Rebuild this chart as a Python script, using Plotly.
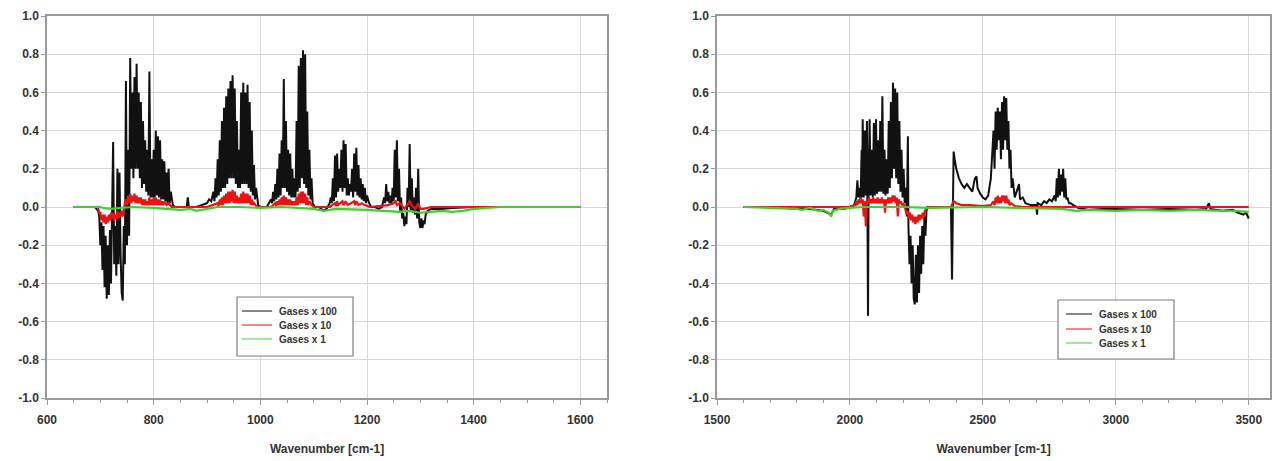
import plotly.graph_objects as go

# ---------------- data ----------------
# Left panel, Gases x 100 (black)
L100_wn = [650, 690, 696, 698, 700, 702, 704, 706, 708, 710, 712, 714, 716, 718, 720, 722, 724, 726, 728, 730,
           732, 734, 736, 738, 740, 742, 744, 746, 748, 750, 752, 754, 756, 758, 760, 762, 764, 766, 768, 770,
           772, 774, 776, 778, 780, 782, 784, 786, 788, 790, 792, 794, 796, 798, 800, 802, 804, 806, 808, 810,
           812, 814, 816, 818, 820, 822, 824, 826, 828, 830, 832, 836, 840, 850, 862, 864, 866, 880, 890,
           900, 904, 908, 912, 914, 916, 918, 920, 922, 924, 926, 928, 930, 932, 934, 936, 938, 940, 942, 944,
           946, 948, 950, 952, 954, 956, 958, 960, 962, 964, 966, 968, 970, 972, 974, 976, 978, 980, 982, 984,
           986, 988, 990, 992, 996, 1000, 1012, 1016, 1020, 1022, 1024, 1026, 1028, 1030, 1032, 1034, 1036, 1038,
           1040, 1042, 1044, 1046, 1048, 1050, 1052, 1054, 1056, 1058, 1060, 1062, 1064, 1066, 1068, 1070, 1072,
           1074, 1076, 1078, 1080, 1082, 1084, 1086, 1088, 1090, 1092, 1094, 1096, 1098, 1102, 1110, 1118, 1124,
           1130, 1132, 1134, 1136, 1138, 1140, 1142, 1144, 1146, 1148, 1150, 1152, 1154, 1156, 1158, 1160, 1162,
           1164, 1166, 1168, 1170, 1172, 1174, 1176, 1178, 1180, 1182, 1184, 1186, 1188, 1190, 1192, 1194, 1196,
           1198, 1200, 1204, 1208, 1215, 1222, 1228, 1232, 1234, 1236, 1238, 1240, 1242, 1244, 1246, 1248, 1250,
           1252, 1254, 1256, 1258, 1260, 1262, 1264, 1266, 1268, 1270, 1272, 1274, 1276, 1278, 1280, 1282, 1284,
           1286, 1288, 1290, 1292, 1294, 1296, 1298, 1300, 1302, 1304, 1306, 1308, 1310, 1314, 1320, 1340, 1360,
           1400, 1600]
L100_val = [0, 0, -0.02, -0.05, -0.2, -0.08, -0.33, -0.1, -0.42, -0.15, -0.48, -0.2, -0.46, -0.12, -0.4, 0.1, 0.34, -0.3, -0.1, -0.36,
            0.2, -0.3, 0.18, -0.25, -0.45, -0.49, -0.1, -0.3, 0.66, -0.2, 0.3, -0.15, 0.78, 0.2, 0.6, 0.15, 0.68, 0.2, 0.75, 0.2,
            0.6, 0.15, 0.55, 0.1, 0.45, 0.12, 0.35, 0.08, 0.3, 0.06, 0.71, 0.05, 0.25, 0.05, 0.3, 0.05, 0.4, 0.06, 0.37, 0.05,
            0.35, 0.04, 0.25, 0.04, 0.24, 0.03, 0.18, 0.02, 0.2, 0.02, 0.08, 0.01, 0.0, 0.0, 0.0, 0.05, 0.0, 0.0, 0.01,
            0.02, 0.04, 0.03, 0.08, 0.03, 0.15, 0.05, 0.25, 0.06, 0.35, 0.08, 0.45, 0.1, 0.52, 0.1, 0.58, 0.12, 0.62, 0.15, 0.66,
            0.15, 0.69, 0.15, 0.62, 0.12, 0.45, 0.1, 0.3, 0.1, 0.6, 0.12, 0.65, 0.12, 0.6, 0.12, 0.64, 0.1, 0.55, 0.08, 0.4,
            0.06, 0.22, 0.04, 0.1, 0.01, 0.0, 0.0, 0.02, 0.04, 0.02, 0.08, 0.03, 0.12, 0.04, 0.2, 0.05, 0.28, 0.06,
            0.35, 0.1, 0.67, 0.1, 0.45, 0.08, 0.3, 0.06, 0.28, 0.05, 0.2, 0.05, 0.15, 0.05, 0.45, 0.08, 0.74,
            0.1, 0.78, 0.15, 0.82, 0.12, 0.8, 0.1, 0.5, 0.06, 0.3, 0.04, 0.15, 0.02, 0.0, 0.0, -0.02, -0.01,
            0.02, 0.05, 0.02, 0.15, 0.03, 0.27, 0.05, 0.28, 0.08, 0.2, 0.1, 0.3, 0.08, 0.35, 0.1, 0.33, 0.06,
            0.15, 0.06, 0.12, 0.08, 0.2, 0.05, 0.28, 0.08, 0.31, 0.06, 0.22, 0.05, 0.15, 0.04, 0.12, 0.03, 0.1,
            0.02, 0.06, 0.02, 0.0, 0.0, -0.01, 0.0, 0.05, 0.02, 0.12, 0.03, 0.08, 0.02, 0.06, 0.02, 0.1, 0.03,
            0.3, 0.05, 0.35, 0.03, 0.2, -0.02, 0.05, -0.06, -0.03, -0.1, -0.05, -0.09, 0.1, 0.0, 0.33, -0.02, 0.15,
            -0.03, 0.05, -0.04, 0.1, -0.06, 0.2, -0.08, -0.11, -0.06, -0.11, -0.07, -0.09, -0.04, -0.02, -0.01, -0.01, -0.005,
            0.0, 0.0]

# Left panel, Gases x 10 (red)
L10_wn = [650, 695, 698, 700, 702, 704, 706, 708, 710, 712, 714, 716, 718, 720, 722, 724, 726, 728, 730, 732,
          734, 736, 738, 740, 742, 744, 746, 748, 750, 752, 754, 756, 758, 760, 762, 764, 766, 768, 770, 772,
          774, 776, 778, 780, 782, 784, 786, 788, 790, 792, 794, 796, 798, 800, 802, 804, 806, 808, 810, 812,
          814, 816, 818, 820, 824, 828, 834, 850, 900, 910, 920, 922, 924, 926, 928, 930, 932, 934, 936, 938,
          940, 942, 944, 946, 948, 950, 952, 954, 956, 958, 960, 962, 964, 966, 968, 970, 972, 974, 976, 978,
          980, 982, 984, 986, 988, 994, 1020, 1024, 1028, 1030, 1032, 1034, 1036, 1038, 1040, 1042, 1044, 1046,
          1048, 1050, 1052, 1054, 1056, 1058, 1060, 1062, 1064, 1066, 1068, 1070, 1072, 1074, 1076, 1078, 1080,
          1082, 1084, 1086, 1088, 1090, 1092, 1096, 1100, 1130, 1140, 1142, 1144, 1146, 1150, 1154, 1156, 1160,
          1164, 1170, 1176, 1178, 1180, 1184, 1190, 1196, 1205, 1240, 1250, 1254, 1256, 1262, 1270, 1280, 1284,
          1290, 1296, 1300, 1306, 1320, 1600]
L10_val = [0, 0, -0.03, -0.03, -0.07, -0.04, -0.08, -0.04, -0.09, -0.05, -0.08, -0.04, -0.07, -0.03, -0.06, -0.03, -0.07, -0.04, -0.06, -0.02,
           -0.06, -0.03, -0.05, -0.02, -0.05, -0.01, 0.02, 0.04, 0.01, 0.06, 0.02, 0.07, 0.02, 0.06, 0.03, 0.07, 0.02, 0.06, 0.02, 0.05,
           0.02, 0.05, 0.01, 0.04, 0.01, 0.04, 0.01, 0.03, 0.01, 0.05, 0.01, 0.04, 0.01, 0.05, 0.01, 0.05, 0.01, 0.04, 0.01, 0.04,
           0.01, 0.03, 0.01, 0.03, 0.01, 0.02, 0.0, 0.0, 0.0, 0.01, 0.02, 0.005, 0.04, 0.01, 0.05, 0.01, 0.06, 0.02, 0.07, 0.02,
           0.08, 0.02, 0.08, 0.03, 0.09, 0.02, 0.08, 0.02, 0.06, 0.02, 0.05, 0.02, 0.07, 0.02, 0.08, 0.02, 0.07, 0.02, 0.07, 0.02,
           0.06, 0.01, 0.04, 0.01, 0.02, 0.0, 0.0, 0.01, 0.02, 0.005, 0.03, 0.01, 0.04, 0.01, 0.05, 0.01, 0.06, 0.01,
           0.05, 0.01, 0.04, 0.01, 0.04, 0.01, 0.03, 0.01, 0.03, 0.01, 0.05, 0.01, 0.07, 0.02, 0.08, 0.02, 0.08,
           0.02, 0.07, 0.01, 0.05, 0.01, 0.03, 0.01, 0.0, 0.0, 0.02, 0.005, 0.03, 0.01, 0.02, 0.03, 0.01, 0.03,
           0.01, 0.02, 0.03, 0.01, 0.03, 0.01, 0.02, 0.01, 0.0, 0.01, 0.02, 0.03, 0.01, 0.02, -0.01, 0.03, 0.01,
           -0.01, 0.02, -0.01, -0.01, 0.0, 0.0]

# Left panel, Gases x 1 (green)
L1_wn = [650, 700, 705, 720, 740, 760, 800, 840, 850, 870, 880, 900, 920, 960, 1000, 1040, 1100, 1120, 1140, 1200,
         1240, 1260, 1280, 1300, 1320, 1340, 1360, 1380, 1400, 1420, 1450, 1600]
L1_val = [0, 0, -0.005, -0.01, -0.005, 0.0, -0.005, -0.01, -0.015, -0.01, -0.02, -0.01, 0.0, 0.0, -0.005, 0.0, -0.01, -0.02, -0.01, -0.015,
          -0.02, -0.025, -0.02, -0.03, -0.025, -0.02, -0.025, -0.02, -0.01, -0.005, 0.0, 0.0]

# Right panel, Gases x 100 (black)
R100_wn = [1600, 1700, 1760, 1800, 1850, 1900, 1930, 1940, 1980, 2000, 2016, 2020, 2024, 2028, 2032, 2036, 2040, 2044, 2046, 2048,
           2052, 2056, 2060, 2064, 2066, 2068, 2070, 2074, 2078, 2082, 2086, 2090, 2094, 2098, 2102, 2106, 2110, 2114, 2118, 2122,
           2126, 2130, 2134, 2138, 2142, 2146, 2150, 2154, 2158, 2162, 2166, 2170, 2174, 2178, 2182, 2186, 2190, 2194, 2198, 2202,
           2206, 2210, 2214, 2218, 2220, 2224, 2228, 2232, 2236, 2240, 2244, 2248, 2252, 2256, 2260, 2264, 2268, 2272, 2276, 2280,
           2284, 2288, 2292, 2300, 2340, 2380, 2384, 2386, 2390, 2394, 2400, 2410, 2420, 2430, 2440, 2450, 2460, 2470, 2476, 2480,
           2490, 2500, 2510, 2520, 2530, 2536, 2540, 2544, 2548, 2552, 2556, 2560, 2564, 2568, 2572, 2576, 2580, 2584, 2588, 2592,
           2596, 2600, 2604, 2608, 2612, 2620, 2630, 2636, 2640, 2650, 2660, 2680, 2700, 2704, 2706, 2720, 2730, 2740, 2750, 2760,
           2770, 2774, 2778, 2782, 2786, 2790, 2794, 2798, 2802, 2806, 2810, 2814, 2818, 2824, 2830, 2840, 2860, 2880, 2900, 2950,
           3000, 3100, 3200, 3300, 3340, 3350, 3356, 3400, 3440, 3460, 3480, 3490, 3500]
R100_val = [0, 0, -0.005, -0.01, -0.01, -0.02, -0.04, -0.01, -0.01, 0.0, 0.01, 0.03, 0.05, 0.14, 0.05, 0.1, 0.04, 0.3, 0.05, 0.46,
            0.05, 0.4, 0.06, 0.45, 0.03, -0.57, 0.04, 0.46, 0.06, 0.3, 0.05, 0.44, 0.06, 0.46, 0.07, 0.35, 0.08, 0.45, 0.08, 0.58,
            0.07, 0.3, 0.06, 0.25, 0.07, 0.45, 0.1, 0.55, 0.15, 0.65, 0.2, 0.62, 0.15, 0.6, 0.12, 0.45, 0.08, 0.3, 0.05, 0.2,
            0.02, 0.1, -0.05, 0.37, -0.1, -0.3, -0.15, -0.4, -0.2, -0.48, -0.51, -0.25, -0.5, -0.2, -0.45, -0.15, -0.35, -0.1, -0.3, -0.05,
            -0.15, -0.02, 0.0, 0.0, 0.0, 0.0, -0.38, 0.0, 0.29, 0.25, 0.2, 0.15, 0.12, 0.1, 0.12, 0.1, 0.08, 0.15, 0.16, 0.1,
            0.07, 0.05, 0.04, 0.06, 0.15, 0.3, 0.4, 0.2, 0.5, 0.3, 0.52, 0.35, 0.5, 0.25, 0.55, 0.3, 0.58, 0.35, 0.57, 0.3,
            0.45, 0.2, 0.3, 0.1, 0.15, 0.05, 0.1, 0.12, 0.04, 0.05, 0.02, 0.01, 0.01, -0.04, 0.02, 0.01, 0.03, 0.02, 0.04, 0.03,
            0.06, 0.03, 0.15, 0.05, 0.2, 0.06, 0.17, 0.08, 0.2, 0.05, 0.15, 0.04, 0.05, 0.02, 0.02, 0.01, -0.005, -0.01, -0.015, -0.01,
            -0.01, -0.015, -0.01, -0.015, -0.01, 0.02, -0.01, -0.02, -0.015, -0.03, -0.04, -0.03, -0.06]

# Right panel, Gases x 10 (red)
R10_wn = [1600, 2000, 2020, 2024, 2028, 2032, 2036, 2040, 2044, 2048, 2052, 2056, 2060, 2064, 2068, 2072, 2076, 2080, 2084, 2088,
          2092, 2096, 2100, 2104, 2108, 2112, 2116, 2120, 2124, 2128, 2132, 2136, 2140, 2144, 2148, 2152, 2156, 2160, 2164, 2168,
          2172, 2176, 2180, 2184, 2188, 2192, 2196, 2200, 2206, 2210, 2214, 2218, 2222, 2226, 2230, 2234, 2238, 2242, 2246, 2250,
          2254, 2258, 2262, 2266, 2270, 2274, 2278, 2282, 2288, 2300, 2380, 2390, 2400, 2420, 2450, 2500, 2530, 2540, 2544, 2548,
          2552, 2556, 2560, 2564, 2568, 2572, 2576, 2580, 2584, 2588, 2592, 2596, 2600, 2606, 2620, 2650, 3500]
R10_val = [0, 0, 0.01, 0.03, 0.01, 0.04, 0.02, 0.05, 0.02, 0.04, -0.05, 0.03, -0.1, 0.04, 0.02, 0.05, 0.02, 0.04, 0.02, 0.05,
           0.02, 0.04, 0.02, 0.05, 0.02, 0.04, 0.02, 0.05, 0.02, 0.04, -0.03, 0.04, 0.02, 0.05, 0.02, 0.05, 0.02, 0.06, 0.03, 0.06,
           0.02, 0.05, -0.05, 0.04, 0.02, 0.03, 0.01, 0.02, 0.0, -0.02, -0.04, -0.02, -0.06, -0.03, -0.07, -0.04, -0.08, -0.05, -0.09, -0.05,
           -0.08, -0.04, -0.07, -0.04, -0.06, -0.03, -0.05, -0.02, -0.01, 0.0, 0.0, 0.03, 0.02, 0.01, 0.01, 0.005, 0.01, 0.03, 0.01, 0.05,
           0.02, 0.06, 0.02, 0.05, 0.02, 0.06, 0.03, 0.06, 0.02, 0.06, 0.02, 0.04, 0.01, 0.02, 0.005, 0.0, 0.0]

# Right panel, Gases x 1 (green)
R1_wn = [1600, 1750, 1800, 1820, 1850, 1880, 1900, 1920, 1930, 1935, 1960, 2000, 2050, 2200, 2300, 2500, 2700, 2800, 2850, 2900,
         3000, 3100, 3200, 3300, 3400, 3450, 3500]
R1_val = [0, -0.005, -0.01, -0.015, -0.005, -0.02, -0.015, -0.03, -0.05, -0.02, -0.01, -0.005, 0.0, 0.0, -0.005, 0.0, -0.005, -0.01, -0.02, -0.015,
          -0.02, -0.015, -0.02, -0.015, -0.02, -0.02, -0.025]

series_names = ["Gases x 100", "Gases x 10", "Gases x 1"]
y_tick_vals = [-1.0, -0.8, -0.6, -0.4, -0.2, 0.0, 0.2, 0.4, 0.6, 0.8, 1.0]
y_tick_text = ["-1.0", "-0.8", "-0.6", "-0.4", "-0.2", "0.0", "0.2", "0.4", "0.6", "0.8", "1.0"]
x_title = "Wavenumber [cm-1]"

# ---------------- figure ----------------
colors = ["#111111", "#ee1111", "#44cc33"]
widths = [2, 2.2, 2.2]

fig = go.Figure()
left = [(L100_wn, L100_val), (L10_wn, L10_val), (L1_wn, L1_val)]
right = [(R100_wn, R100_val), (R10_wn, R10_val), (R1_wn, R1_val)]
for i, (xs, ys) in enumerate(left):
    fig.add_trace(go.Scatter(x=xs, y=ys, mode="lines", name=series_names[i], showlegend=False,
                             line=dict(color=colors[i], width=widths[i]), xaxis="x", yaxis="y"))
for i, (xs, ys) in enumerate(right):
    fig.add_trace(go.Scatter(x=xs, y=ys, mode="lines", name=series_names[i], showlegend=False,
                             line=dict(color=colors[i], width=widths[i]), xaxis="x2", yaxis="y2"))

# the page body has an 8px margin: the figure is placed 8px right/down
OFF = 8
FW, FH = 1273, 453
def px(x):
    return (x - OFF) / FW
def py(y):
    return 1 - (y - OFF) / FH

PLOT_TOP, PLOT_BOTTOM = 16, 398

FAM = "Liberation Sans, Arial, sans-serif"
font_main = dict(family=FAM, size=12, color="#333333", weight="bold")

def xaxis(domain, rng, dtick, minor, anchor):
    return dict(domain=domain, range=rng, dtick=dtick, tick0=0, anchor=anchor, automargin=False,
                ticklabeloverflow="allow",
                showgrid=True, gridcolor="#d8d8d8", gridwidth=1,
                showline=True, linecolor="#9a9a9a", linewidth=1.5, mirror=True,
                ticks="outside", ticklen=5, tickcolor="#9a9a9a", ticklabelstandoff=5,
                minor=dict(dtick=minor, ticks="outside", ticklen=3, tickcolor="#9a9a9a", showgrid=False),
                zeroline=False, tickfont=font_main,
                title=dict(text=x_title, font=dict(family=FAM, size=12, color="#333333", weight="bold"),
                           standoff=18))

def yaxis(anchor):
    return dict(domain=[py(PLOT_BOTTOM), py(PLOT_TOP)], range=[-1.0, 1.0], anchor=anchor, automargin=False,
                ticklabeloverflow="allow",
                tickvals=y_tick_vals, ticktext=y_tick_text,
                showgrid=True, gridcolor="#d8d8d8", gridwidth=1,
                showline=True, linecolor="#9a9a9a", linewidth=1.5, mirror=True,
                ticks="outside", ticklen=4, tickcolor="#9a9a9a",
                zeroline=False, tickfont=font_main)

# hand-drawn legend boxes (one per panel)
shapes, annotations = [], []
legend_boxes = [  # (box x0, y0, x1, y1, line x0, line x1, row y's, text x)
    (237, 297, 353, 356, 242, 272, [311, 325, 339], 277),
    (1058, 300, 1174, 359, 1066, 1092, [314, 329, 343], 1097),
]
for (bx0, by0, bx1, by1, lx0, lx1, rows, tx) in legend_boxes:
    shapes.append(dict(type="rect", xref="paper", yref="paper", x0=px(bx0), y0=py(by1), x1=px(bx1), y1=py(by0),
                       line=dict(color="#808080", width=1.2), fillcolor="white", layer="above"))
    for i, ry in enumerate(rows):
        shapes.append(dict(type="line", xref="paper", yref="paper", x0=px(lx0), x1=px(lx1), y0=py(ry), y1=py(ry),
                           line=dict(color=colors[i], width=1), layer="above"))
        annotations.append(dict(text=series_names[i], xref="paper", yref="paper", x=px(tx), y=py(ry),
                                xanchor="left", yanchor="middle", showarrow=False,
                                font=dict(family=FAM, size=10, color="#333333", weight="bold")))

fig.update_layout(
    width=FW, height=FH,
    margin=dict(l=0, r=0, t=0, b=0),
    paper_bgcolor="white", plot_bgcolor="white",
    xaxis=xaxis([px(47), px(607)], [600, 1650], 200, 50, "y"),
    yaxis=yaxis("x"),
    xaxis2=xaxis([px(717), px(1270)], [1500, 3580], 500, 100, "y2"),
    yaxis2=yaxis("x2"),
    shapes=shapes, annotations=annotations,
    showlegend=False,
)

fig.write_html("out.html")
